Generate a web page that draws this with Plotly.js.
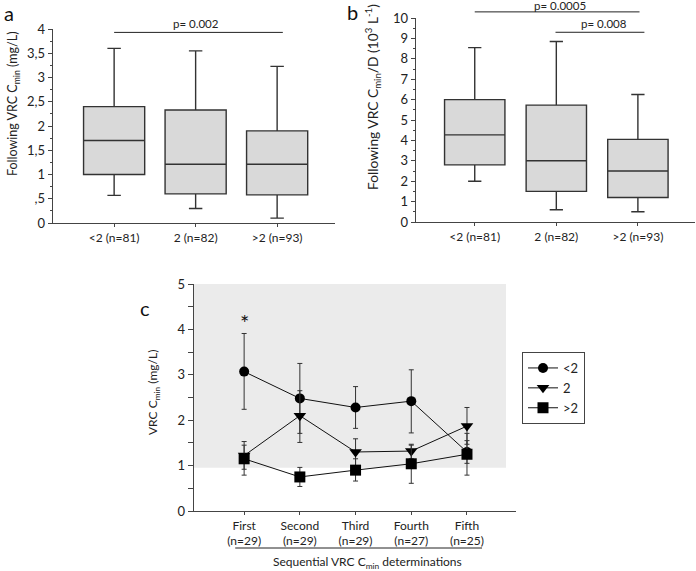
<!DOCTYPE html>
<html>
<head>
<meta charset="utf-8">
<script src="https://cdn.plot.ly/plotly-3.0.1.min.js"></script>
<style>html,body{margin:0;padding:0;background:#fff;}#chart{width:696px;height:571px;}</style>
</head>
<body>
<div id="chart"></div>
<script>
// ---------- Data ----------
const groups = ['<2 (n=81)', '2 (n=82)', '>2 (n=93)'];
const groupPos = [0, 1, 2];

// Panel a: Following VRC Cmin (mg/L)
const aLow  = [0.57, 0.30, 0.10];
const aQ1   = [1.00, 0.60, 0.58];
const aMed  = [1.70, 1.21, 1.21];
const aQ3   = [2.40, 2.33, 1.90];
const aHigh = [3.60, 3.55, 3.23];

// Panel b: Following VRC Cmin/D (10^3 L^-1)
const bLow  = [2.00, 0.60, 0.50];
const bQ1   = [2.80, 1.50, 1.20];
const bMed  = [4.27, 3.00, 2.50];
const bQ3   = [6.00, 5.73, 4.05];
const bHigh = [8.55, 8.85, 6.25];

// Panel a y tick labels
const aTickVals = [0, 0.5, 1, 1.5, 2, 2.5, 3, 3.5, 4];
const aTickText = ['0', ',5', '1', '1,5', '2', '2,5', '3', '3,5', '4'];

// Panel c: Sequential VRC Cmin determinations
const determinations = ['First<br>(n=29)', 'Second<br>(n=29)', 'Third<br>(n=29)', 'Fourth<br>(n=27)', 'Fifth<br>(n=25)'];
const detPos = [0, 1, 2, 3, 4];
const seriesNames = ['<2', '2', '>2'];

const lt2Mean = [3.07, 2.48, 2.28, 2.42, 1.30];
const lt2Up   = [3.91, 3.25, 2.74, 3.11, 1.55];
const lt2Lo   = [2.24, 1.71, 1.82, 1.72, 1.05];

const eq2Mean = [1.22, 2.10, 1.30, 1.32, 1.87];
const eq2Up   = [1.53, 2.65, 1.59, 1.45, 2.28];
const eq2Lo   = [0.92, 1.51, 1.00, 1.15, 1.47];

const gt2Mean = [1.15, 0.75, 0.90, 1.04, 1.25];
const gt2Up   = [1.45, 0.96, 1.15, 1.47, 1.71];
const gt2Lo   = [0.79, 0.54, 0.66, 0.61, 0.79];

// ---------- Styling ----------
const W = 696, H = 571;
const FONT = 'Lato, "Open Sans", sans-serif';
const TXT = '#222';
const AX = '#444';

const domA = {x: [53 / W, 335 / W], y: [1 - 223 / H, 1 - 29 / H]};
const domB = {x: [416 / W, 695 / W], y: [1 - 222 / H, 1 - 18 / H]};
const domC = {x: [194 / W, 516 / W], y: [1 - 511 / H, 1 - 284 / H]};
const rangeAx = [-0.75, 2.71], rangeAy = [0, 4];
const rangeBx = [-0.72, 2.70], rangeBy = [0, 10];
const rangeCx = [-0.9, 4.88],  rangeCy = [0, 5];

function yToPaper(v, dom, r) { return dom[0] + (v - r[0]) / (r[1] - r[0]) * (dom[1] - dom[0]); }

const diff = (a, b) => a.map((v, i) => +(v - b[i]).toFixed(3));

function boxTrace(low, q1, med, q3, high, xa, ya, w) {
  return {
    type: 'box', x: groupPos, lowerfence: low, q1: q1, median: med, q3: q3, upperfence: high,
    xaxis: xa, yaxis: ya, width: w, whiskerwidth: 0.22, boxpoints: false,
    fillcolor: '#d9d9d9', line: {color: '#333', width: 1.4}, showlegend: false, hoverinfo: 'skip'
  };
}

function lineTrace(name, mean, up, lo, symbol, size) {
  return {
    type: 'scatter', mode: 'lines+markers', name: name, x: detPos, y: mean,
    xaxis: 'x3', yaxis: 'y3',
    line: {color: '#111', width: 1},
    marker: {symbol: symbol, size: size, color: '#000'},
    error_y: {type: 'data', symmetric: false, array: diff(up, mean), arrayminus: diff(mean, lo),
              color: '#333', thickness: 1, width: 2.5},
    cliponaxis: false
  };
}

const traces = [
  boxTrace(aLow, aQ1, aMed, aQ3, aHigh, 'x', 'y', 0.75),
  boxTrace(bLow, bQ1, bMed, bQ3, bHigh, 'x2', 'y2', 0.74),
  lineTrace(seriesNames[0], lt2Mean, lt2Up, lt2Lo, 'circle', 10),
  lineTrace(seriesNames[1], eq2Mean, eq2Up, eq2Lo, 'triangle-down', 11),
  lineTrace(seriesNames[2], gt2Mean, gt2Up, gt2Lo, 'square', 11)
];

function axisCommon(extra) {
  return Object.assign({
    showline: true, linecolor: AX, linewidth: 1.3, showgrid: false, zeroline: false,
    ticks: 'outside', tickcolor: AX, tickwidth: 1, fixedrange: true,
    tickfont: {family: FONT, size: 12, color: TXT}
  }, extra);
}

const lineStyle = {color: '#222', width: 1};
const pA = yToPaper(3.93, domA.y, rangeAy);
const pB1 = yToPaper(10.3, domB.y, rangeBy);
const pB2 = yToPaper(9.3, domB.y, rangeBy);

const layout = {
  width: W, height: H,
  margin: {l: 0, r: 0, t: 0, b: 0},
  paper_bgcolor: '#fff', plot_bgcolor: 'rgba(0,0,0,0)',
  font: {family: FONT, color: TXT},
  showlegend: true,
  legend: {
    x: 522 / W, y: 1 - 352 / H, xanchor: 'left', yanchor: 'top',
    bordercolor: AX, borderwidth: 1, bgcolor: '#fff',
    font: {family: FONT, size: 13, color: TXT}, itemwidth: 30, tracegroupgap: 0
  },
  xaxis: axisCommon({domain: domA.x, range: rangeAx, anchor: 'y', tickvals: groupPos, ticktext: groups, ticklen: 3}),
  yaxis: axisCommon({domain: domA.y, range: rangeAy, anchor: 'x', tickvals: aTickVals, ticktext: aTickText, ticklen: 4,
    tickfont: {family: FONT, size: 13, color: TXT},
    minor: {tickmode: 'linear', tick0: 0, dtick: 0.25, ticks: 'outside', ticklen: 2, tickcolor: AX}}),
  xaxis2: axisCommon({domain: domB.x, range: rangeBx, anchor: 'y2', tickvals: groupPos, ticktext: groups, ticklen: 3}),
  yaxis2: axisCommon({domain: domB.y, range: rangeBy, anchor: 'x2', tickmode: 'linear', tick0: 0, dtick: 1, ticklen: 4,
    tickfont: {family: FONT, size: 13, color: TXT},
    minor: {tickmode: 'linear', tick0: 0, dtick: 0.5, ticks: 'outside', ticklen: 2, tickcolor: AX}}),
  xaxis3: axisCommon({domain: domC.x, range: rangeCx, anchor: 'y3', tickvals: detPos, ticktext: determinations, ticklen: 3}),
  yaxis3: axisCommon({domain: domC.y, range: rangeCy, anchor: 'x3', tickmode: 'linear', tick0: 0, dtick: 1, ticklen: 5,
    tickfont: {family: FONT, size: 13, color: TXT},
    minor: {tickmode: 'linear', tick0: 0, dtick: 0.5, ticks: 'outside', ticklen: 5, tickcolor: AX}}),
  shapes: [
    // grey reference band in panel c
    {type: 'rect', xref: 'x3', yref: 'y3', x0: -0.9, x1: 4.70, y0: 0.95, y1: 5, layer: 'below',
     fillcolor: '#ebebeb', line: {width: 0}},
    // p-value lines
    {type: 'line', xref: 'x', yref: 'paper', x0: 0, x1: 2.07, y0: pA, y1: pA, line: lineStyle},
    {type: 'line', xref: 'x2', yref: 'paper', x0: 0, x1: 2.02, y0: pB1, y1: pB1, line: lineStyle},
    {type: 'line', xref: 'x2', yref: 'paper', x0: 0.99, x1: 2.08, y0: pB2, y1: pB2, line: lineStyle},
    // underline below panel c categories
    {type: 'line', xref: 'x3', yref: 'paper', x0: -0.16, x1: 4.27, y0: 1 - 548 / H, y1: 1 - 548 / H, line: lineStyle}
  ],
  annotations: [
    {text: 'a', xref: 'paper', yref: 'paper', x: 9 / W, y: 1 - 13 / H, showarrow: false, xanchor: 'center', yanchor: 'middle', font: {size: 20, family: FONT, color: '#111'}},
    {text: 'b', xref: 'paper', yref: 'paper', x: 352 / W, y: 1 - 12 / H, showarrow: false, xanchor: 'center', yanchor: 'middle', font: {size: 20, family: FONT, color: '#111'}},
    {text: 'c', xref: 'paper', yref: 'paper', x: 145 / W, y: 1 - 308 / H, showarrow: false, xanchor: 'center', yanchor: 'middle', font: {size: 20, family: FONT, color: '#111'}},
    {text: 'Following VRC C<sub>min</sub> (mg/L)', xref: 'paper', yref: 'paper', x: 13 / W, y: 1 - 104 / H, textangle: -90,
     showarrow: false, xanchor: 'center', yanchor: 'middle', font: {size: 12.5, family: FONT, color: TXT}},
    {text: 'Following VRC C<sub>min</sub>/D (10<sup>3</sup> L<sup>-1</sup>)', xref: 'paper', yref: 'paper', x: 373 / W, y: 1 - 97 / H, textangle: -90,
     showarrow: false, xanchor: 'center', yanchor: 'middle', font: {size: 13.8, family: FONT, color: TXT}},
    {text: 'VRC C<sub>min</sub> (mg/L)', xref: 'paper', yref: 'paper', x: 153 / W, y: 1 - 393 / H, textangle: -90,
     showarrow: false, xanchor: 'center', yanchor: 'middle', font: {size: 12, family: FONT, color: TXT}},
    {text: 'p= 0.002', xref: 'x', yref: 'paper', x: 1.0, y: 1 - 24 / H, showarrow: false, xanchor: 'center', yanchor: 'middle', font: {size: 11.5, family: FONT, color: TXT}},
    {text: 'p= 0.0005', xref: 'x2', yref: 'paper', x: 1.04, y: 1 - 6 / H, showarrow: false, xanchor: 'center', yanchor: 'middle', font: {size: 11.5, family: FONT, color: TXT}},
    {text: 'p= 0.008', xref: 'x2', yref: 'paper', x: 1.58, y: 1 - 24 / H, showarrow: false, xanchor: 'center', yanchor: 'middle', font: {size: 11.5, family: FONT, color: TXT}},
    {text: '*', xref: 'x3', yref: 'y3', x: 0, y: 4.15, showarrow: false, xanchor: 'center', yanchor: 'middle', font: {size: 22, family: FONT, color: '#111'}},
    {text: 'Sequential VRC C<sub>min</sub> determinations', xref: 'x3', yref: 'paper', x: 2.22, y: 1 - 562 / H, showarrow: false,
     xanchor: 'center', yanchor: 'middle', font: {size: 12, family: FONT, color: TXT}}
  ]
};

Plotly.newPlot('chart', traces, layout, {displayModeBar: false, staticPlot: true});
</script>
</body>
</html>
